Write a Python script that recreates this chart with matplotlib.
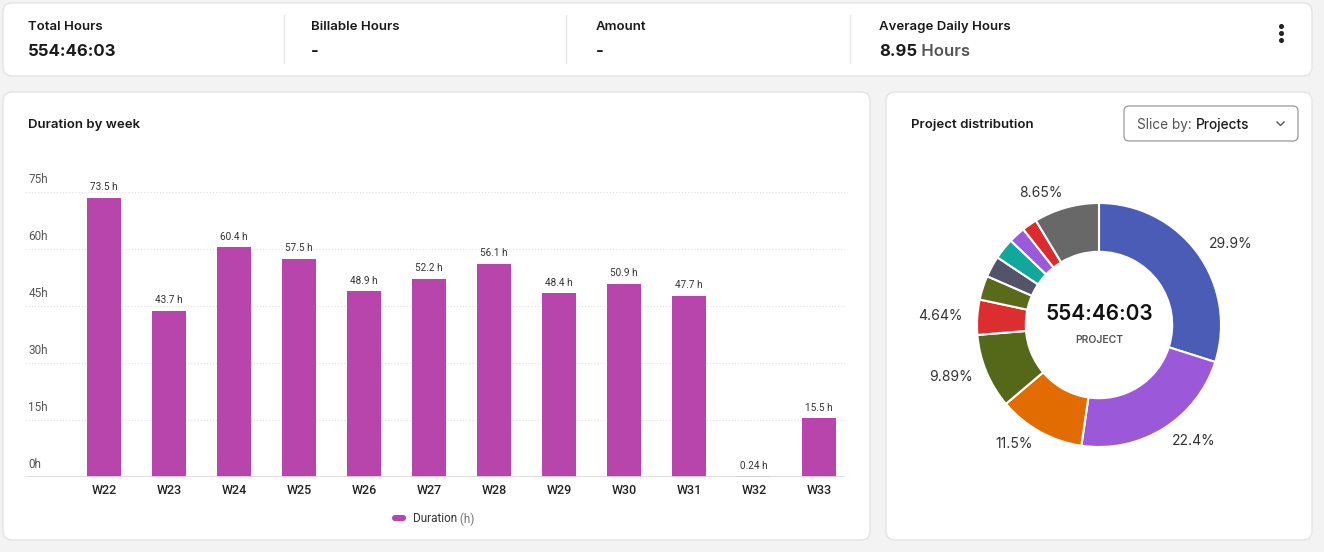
import matplotlib
matplotlib.use("Agg")
import matplotlib.pyplot as plt
from matplotlib.patches import FancyBboxPatch
from matplotlib.transforms import blended_transform_factory

# data
weeks = ["W22", "W23", "W24", "W25", "W26", "W27", "W28", "W29", "W30", "W31", "W32", "W33"]
hours = [73.5, 43.7, 60.4, 57.5, 48.9, 52.2, 56.1, 48.4, 50.9, 47.7, 0.24, 15.5]
y_ticks = [0, 15, 30, 45, 60, 75]

shares = [29.9, 22.4, 11.5, 9.89, 4.64, 3.2, 2.8, 2.8, 2.2, 2.0, 8.65]
share_colors = ["#4a5cb6", "#9b58d8", "#e26c02", "#556819", "#dc2d2f", "#5a6a1a",
                "#53546a", "#10a89a", "#9a5ad9", "#dc2b2d", "#686868"]
show_label = [True, True, True, True, True, False, False, False, False, False, True]

stats = [("Total Hours", "554:46:03"), ("Billable Hours", "-"), ("Amount", "-")]
total_time = "554:46:03"
avg_daily = "8.95"

W, H = 1324, 552
fig = plt.figure(figsize=(W / 100, H / 100), dpi=100)
fig.patch.set_facecolor("#f3f3f3")

# pixel canvas for cards and text
bg = fig.add_axes([0, 0, 1, 1], zorder=-1)
bg.set_xlim(0, W)
bg.set_ylim(H, 0)
bg.axis("off")


def card(x0, y0, x1, y1):
    bg.add_patch(FancyBboxPatch((x0, y0), x1 - x0, y1 - y0,
                                boxstyle="round,pad=0,rounding_size=9",
                                fc="white", ec="#e4e4e4", lw=1))


card(3, 3, 1312, 76)
card(3, 92, 870, 540)
card(886, 92, 1312, 540)

sans = ["Inter", "DejaVu Sans"]
cond = ["Roboto", "DejaVu Sans"]
stat_x = [28, 311, 596]
for (title, value), sx in zip(stats, stat_x):
    bg.text(sx, 27, title, fontsize=9.5, fontweight="semibold", color="#1a1a1a",
            va="center", family=sans)
    bg.text(sx, 52, value, fontsize=12, fontweight="bold", color="#1a1a1a",
            va="center", family=sans)
for dx in [284, 566, 850]:
    bg.plot([dx, dx], [15, 63], color="#e6e6e6", lw=1)
bg.text(879, 27, "Average Daily Hours", fontsize=9.5, fontweight="semibold",
        color="#1a1a1a", va="center", family=sans)
t = bg.text(879, 52, avg_daily, fontsize=12, fontweight="bold", color="#1a1a1a",
            va="center", family=sans)
bg.annotate(" Hours", xycoords=t, xy=(1, 0.5), va="center", fontsize=12,
            fontweight="semibold", color="#555555", family=sans)
for dy in [26, 33, 40]:
    bg.plot(1281, dy, "o", ms=2.6, color="#222222")

bg.text(28, 125, "Duration by week", fontsize=9.5, fontweight="semibold",
        color="#1a1a1a", va="center", family=sans)
bg.text(911, 125, "Project distribution", fontsize=9.5, fontweight="semibold",
        color="#1a1a1a", va="center", family=sans)
bg.add_patch(FancyBboxPatch((1124, 106), 174, 35,
                            boxstyle="round,pad=0,rounding_size=5",
                            fc="white", ec="#9a9a9a", lw=0.9))
t = bg.text(1137, 125, "Slice by: ", fontsize=9.8, color="#555555", va="center",
            family=sans)
bg.annotate("Projects", xycoords=t, xy=(1, 0.5), va="center", fontsize=9.8,
            color="#1a1a1a", fontweight="medium", family=sans)
bg.plot([1277, 1280.5, 1284], [122, 125.5, 122], color="#555555", lw=1)

# bar chart
bar_color = "#b845ab"
ax = fig.add_axes([25 / W, 75 / H, 820 / W, 285 / H])
x = list(range(len(weeks)))
ax.bar(x, hours, width=0.51, color=bar_color, zorder=3)
ax.set_xlim((25 - 104) / 65, (845 - 104) / 65)
ax.set_ylim(0, 75)
for s in ax.spines.values():
    s.set_visible(False)
ax.axhline(0, color="#dadada", lw=2, zorder=4)
for v in y_ticks[1:]:
    ax.axhline(v, color="#e2e2e2", lw=0.9, ls=(0, (1, 1.5)), zorder=1)
ax.set_yticks([])
ax.set_xticks(x)
ax.set_xticklabels(weeks, fontsize=9, color="#222222", fontweight="medium",
                   family=cond)
ax.tick_params(axis="x", length=0, pad=5)
tr = blended_transform_factory(ax.transAxes, ax.transData)
for v in y_ticks:
    ax.annotate(f"{v}h", (0.004, v), xycoords=tr, xytext=(0, 4),
                textcoords="offset points", fontsize=8.5, color="#555555",
                va="bottom", ha="left", family=cond, annotation_clip=False)
for xi, h in zip(x, hours):
    ax.annotate(f"{h:g} h", (xi, h), xytext=(0, 4), textcoords="offset points",
                ha="center", va="bottom", fontsize=7.2, color="#333333",
                family=cond, annotation_clip=False)
ax.patch.set_alpha(0)

# legend
bg.add_patch(FancyBboxPatch((392, 515), 14, 6, boxstyle="round,pad=0,rounding_size=3",
                            fc=bar_color, ec="none"))
t = bg.text(413, 519, "Duration", fontsize=8.5, color="#333333", va="center",
            family=cond)
bg.annotate(" (h)", xycoords=t, xy=(1, 0.5), va="center", fontsize=8.5,
            color="#777777", family=cond)

# donut
cx, cy, r = 1099, 325, 122
side = r * 2.5
pax = fig.add_axes([(cx - side / 2) / W, (H - cy - side / 2) / H, side / W, side / H])
labels = [f"{v:.3g}%" if s else "" for v, s in zip(shares, show_label)]
pax.pie(shares, colors=share_colors, startangle=90, counterclock=False,
        labels=labels, labeldistance=1.12,
        wedgeprops=dict(width=0.40, edgecolor="white", linewidth=1.5),
        textprops=dict(fontsize=10, color="#333333", family=sans))
pax.set_xlim(-1.25, 1.25)
pax.set_ylim(-1.25, 1.25)
pax.set_aspect("equal")
pax.text(0, 0.09, total_time, ha="center", va="center", fontsize=15,
         fontweight="semibold", color="#111111", family=sans)
pax.text(0, -0.12, "PROJECT", ha="center", va="center", fontsize=7.5,
         fontweight="semibold", color="#555555", family=sans)

fig.savefig("out.png", dpi=100, facecolor=fig.get_facecolor())
